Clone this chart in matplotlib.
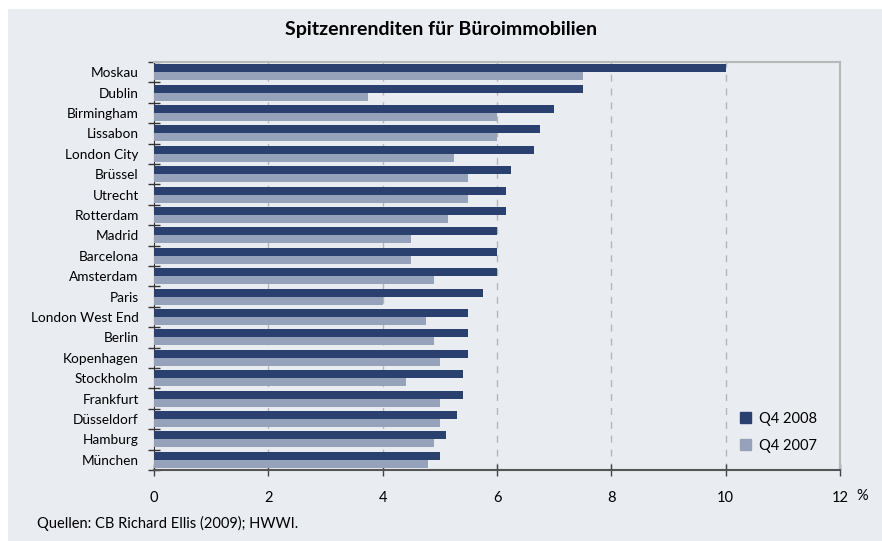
import numpy as np
import matplotlib.pyplot as plt
from matplotlib.patches import Patch, Rectangle

staedte = ['Moskau', 'Dublin', 'Birmingham', 'Lissabon', 'London City', 'Brüssel',
           'Utrecht', 'Rotterdam', 'Madrid', 'Barcelona', 'Amsterdam', 'Paris',
           'London West End', 'Berlin', 'Kopenhagen', 'Stockholm', 'Frankfurt',
           'Düsseldorf', 'Hamburg', 'München']
q4_2008 = [10.0, 7.5, 7.0, 6.75, 6.65, 6.25, 6.15, 6.15, 6.0, 6.0, 6.0, 5.75,
           5.5, 5.5, 5.5, 5.4, 5.4, 5.3, 5.1, 5.0]
q4_2007 = [7.5, 3.75, 6.0, 6.0, 5.25, 5.5, 5.5, 5.15, 4.5, 4.5, 4.9, 4.0,
           4.75, 4.9, 5.0, 4.4, 5.0, 5.0, 4.9, 4.8]
xticks = [0, 2, 4, 6, 8, 10, 12]

dunkel = '#2a4170'
hell = '#95a2ba'
bg = '#e9ecf1'

plt.rcParams['font.family'] = ['Lato', 'DejaVu Sans']

fig = plt.figure(figsize=(8.82, 5.41), dpi=100)
fig.patch.set_facecolor('white')
fig.patches.append(Rectangle((8/882, 0), 1, 1 - 9/541, transform=fig.transFigure,
                             facecolor=bg, edgecolor='none', zorder=-10))

ax = fig.add_axes([154/882, 71/541, 686/882, 408/541])
ax.set_facecolor(bg)

y = np.arange(len(staedte))
h = 0.39
ax.barh(y - h/2, q4_2008, height=h, color=dunkel, label='Q4 2008', zorder=3)
ax.barh(y + h/2, q4_2007, height=h, color=hell, label='Q4 2007', zorder=3)

ax.set_xlim(0, 12)
ax.set_ylim(len(staedte) - 0.5, -0.5)
ax.set_xticks(xticks)
ax.set_xticklabels([str(t) for t in xticks], fontsize=10.5)
ax.set_yticks(y)
ax.set_yticklabels(staedte, fontsize=9.8)
ax.set_yticks(np.arange(-0.5, len(staedte), 1), minor=True)
ax.tick_params(axis='y', which='major', length=0, pad=11)
ax.tick_params(axis='y', which='minor', direction='inout', length=8, width=1, color='#333333')
ax.tick_params(axis='x', direction='inout', length=8, width=1, color='#444444', pad=11)

for gx in xticks[1:-1]:
    ax.axvline(gx, color='#b5b5b5', lw=1, ls=(0, (5, 5)), zorder=1)

for s in ['top', 'right']:
    ax.spines[s].set_color('#b8b8b8')
    ax.spines[s].set_linewidth(1.5)
ax.spines['left'].set_color('#333333')
ax.spines['bottom'].set_color('#555555')
ax.spines['bottom'].set_linewidth(1.5)

ax.annotate('%', xy=(12, 0), xycoords=('data', 'axes fraction'),
            xytext=(16, -19), textcoords='offset points', fontsize=10.5,
            ha='center', va='center')

handles = [Patch(color=dunkel, label='Q4 2008'), Patch(color=hell, label='Q4 2007')]
ax.legend(handles=handles, loc='lower right', bbox_to_anchor=(0.985, 0.01),
          frameon=False, fontsize=10.5, handlelength=0.8, handleheight=0.8,
          handletextpad=0.5, labelspacing=0.9)

fig.text(0.5, 1 - 30/541, 'Spitzenrenditen für Büroimmobilien', ha='center', va='center',
         fontsize=14, fontweight='bold')
fig.text(37/882, 1 - 523/541, 'Quellen: CB Richard Ellis (2009); HWWI.', ha='left', va='center',
         fontsize=10.5)

fig.savefig('out.png', dpi=100, facecolor=fig.get_facecolor())
